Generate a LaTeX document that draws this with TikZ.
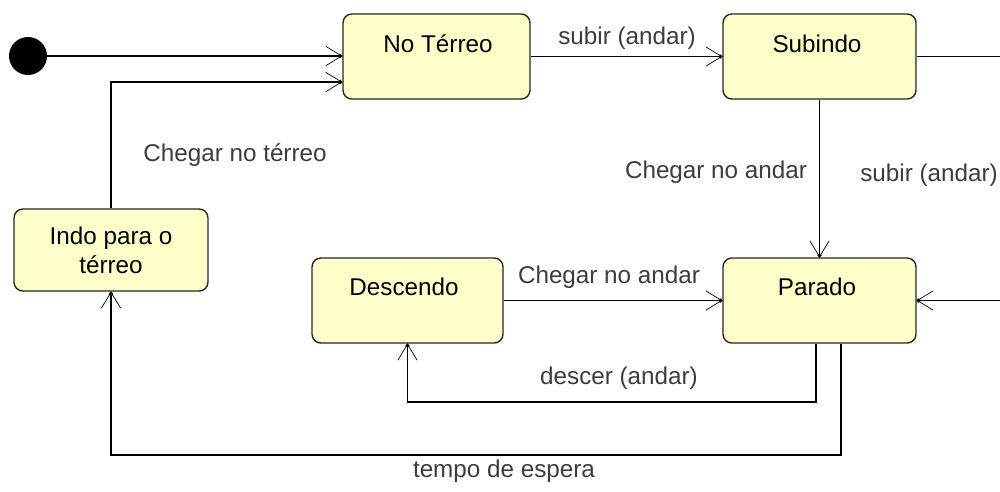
\documentclass[tikz,border=0pt]{standalone}
\usepackage{fontspec}
\setmainfont{Liberation Sans}
\usetikzlibrary{arrows.meta}
\definecolor{statefill}{RGB}{255,255,204}
\definecolor{lbl}{RGB}{60,60,60}
\begin{document}
\begin{tikzpicture}[x=0.02cm,y=-0.02cm,
  font=\fontsize{13.8}{16.5}\selectfont,
  statebox/.style={draw=black!85, line width=0.8pt, fill=statefill, rounded corners=5pt, inner sep=0pt},
  boxtext/.style={inner sep=0pt, text=black},
  edgelbl/.style={inner sep=0pt, text=lbl},
  trans/.style={line width=0.6pt, -{Straight Barb[length=9pt,width=11pt,line width=0.4pt,sep=-2.2pt]Circle[length=2.2pt]}},
]
\useasboundingbox (0,0) rectangle (1000,491);
\begin{scope}
\clip (0,0) rectangle (1000,491);
% states
\node[circle, fill=black, minimum size=0.76cm, inner sep=0pt] (init) at (28,56) {};
\node[statebox, minimum width=3.74cm, minimum height=1.7cm] (notr) at (436.5,56.5) {};
\node[statebox, minimum width=3.86cm, minimum height=1.7cm] (subi) at (819.5,56.5) {};
\node[statebox, minimum width=3.88cm, minimum height=1.64cm] (indo) at (111,250) {};
\node[statebox, minimum width=3.82cm, minimum height=1.7cm] (desc) at (407.5,300.5) {};
\node[statebox, minimum width=3.86cm, minimum height=1.7cm] (para) at (819.5,300.5) {};
% state texts
\node[boxtext] (tnotr) at (438,44) {No Térreo};
\node[boxtext] (tsubi) at (817,44) {Subindo};
\node[boxtext, align=center] (tindo) at (111,250) {Indo para o\\térreo};
\node[boxtext] (tdesc) at (404,287) {Descendo};
\node[boxtext] (tpara) at (817,287) {Parado};
% transitions
\draw[trans] (init.east) -- (init.east -| notr.west);
\draw[trans] (indo.north) |- (notr.west |- 0,82);
\draw[trans] (notr.east) -- (subi.west);
\draw[trans] (subi.south) -- (para.north);
\draw[trans] (subi.east) -- ++(120,0) |- (para.east);
\draw[trans] (desc.east) -- (para.west);
\draw[trans] (para.south -| 816,0) |- (desc.south |- 0,402) -- (desc.south);
\draw[trans] (para.south -| 841,0) |- (indo.south |- 0,455) -- (indo.south);
% labels
\node[edgelbl] (l1) at (235,155) {Chegar no térreo};
\node[edgelbl] (l2) at (627,38) {subir (andar)};
\node[edgelbl] (l3) at (716,172) {Chegar no andar};
\node[edgelbl] (l4) at (929,175) {subir (andar)};
\node[edgelbl] (l5) at (609,277) {Chegar no andar};
\node[edgelbl] (l6) at (619,378) {descer (andar)};
\node[edgelbl] (l7) at (504,471) {tempo de espera};
\end{scope}
\end{tikzpicture}
\end{document}
